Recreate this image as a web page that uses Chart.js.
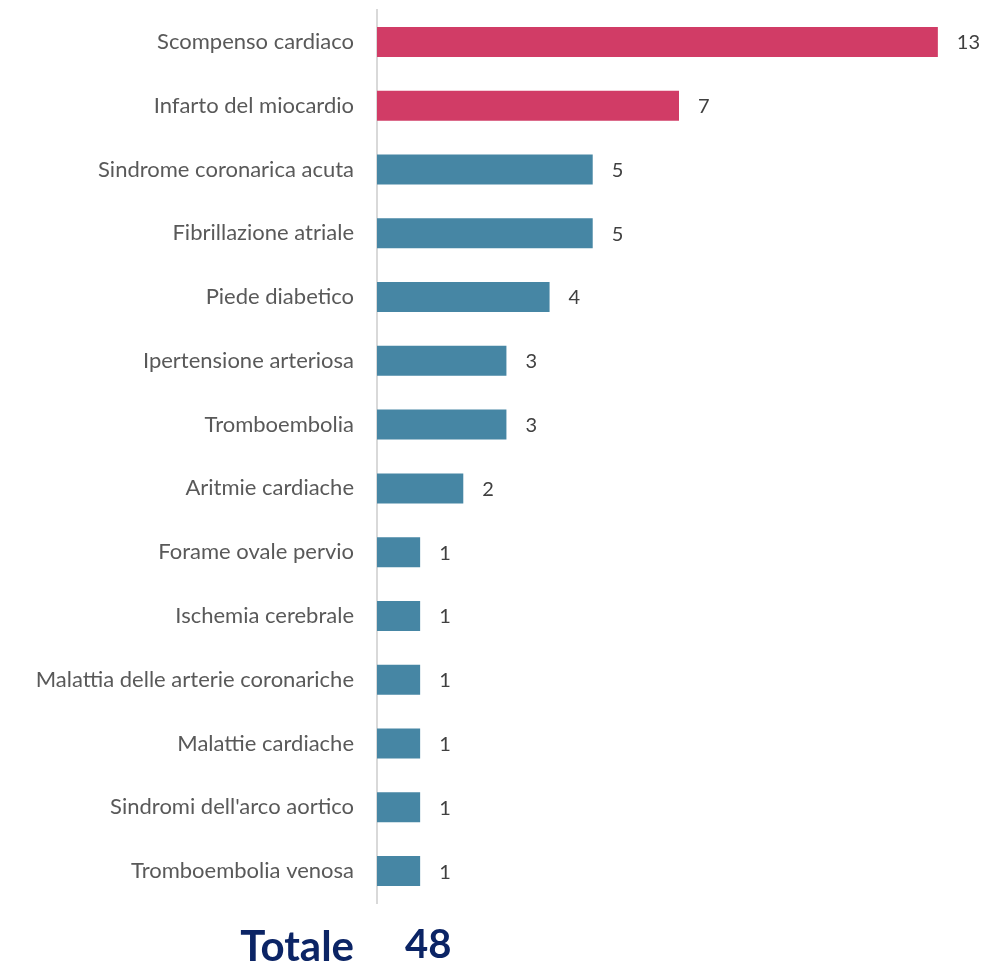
<!DOCTYPE html>
<html>
<head>
<meta charset="utf-8">
<script src="https://cdn.jsdelivr.net/npm/chart.js@4.4.1/dist/chart.umd.min.js"></script>
<style>
  html, body { margin: 0; padding: 0; background: #fff; }
  #wrap { width: 985px; height: 969px; }
</style>
</head>
<body>
<div id="wrap"><canvas id="chart" width="985" height="969"></canvas></div>
<script>
// ---------------- Data ----------------
const categories = [
    "Scompenso cardiaco",
    "Infarto del miocardio",
    "Sindrome coronarica acuta",
    "Fibrillazione atriale",
    "Piede diabetico",
    "Ipertensione arteriosa",
    "Tromboembolia",
    "Aritmie cardiache",
    "Forame ovale pervio",
    "Ischemia cerebrale",
    "Malattia delle arterie coronariche",
    "Malattie cardiache",
    "Sindromi dell'arco aortico",
    "Tromboembolia venosa"
] ;
const counts = [ 13, 7, 5, 5, 4, 3, 3, 2, 1, 1, 1, 1, 1, 1 ] ;
const highlighted = [ true, true, false, false, false, false, false, false, false, false, false, false, false, false ] ;
const totalLabel = "Totale" ;
const totalValue = 48 ;

// ---------------- Styles ----------------
const PINK = '#D13C66' ;
const TEAL = '#4686A4' ;
const NAVY = '#0B2465' ;
const FONT = 'Lato, "Open Sans", sans-serif' ;

const valueLabels = {
    id: 'valueLabels',
    afterDatasetsDraw( chart ) {
        const ctx = chart.ctx ;
        const meta = chart.getDatasetMeta( 0 ) ;
        ctx.save() ;
        ctx.font = '20px ' + FONT ;
        ctx.fillStyle = '#404040' ;
        ctx.textBaseline = 'middle' ;
        ctx.textAlign = 'left' ;
        meta.data.forEach( function( bar, i ) {
            ctx.fillText( String( counts[i] ), bar.x + 19, bar.y + 1 ) ;
        } ) ;
        ctx.restore() ;
    }
} ;

const totalText = {
    id: 'totalText',
    afterDraw( chart ) {
        const ctx = chart.ctx ;
        const left = chart.chartArea.left ;
        ctx.save() ;
        ctx.fillStyle = NAVY ;
        ctx.textBaseline = 'alphabetic' ;
        ctx.font = 'bold 42px ' + FONT ;
        ctx.textAlign = 'right' ;
        ctx.fillText( totalLabel, left - 23, 961 ) ;
        ctx.font = 'bold 40px ' + FONT ;
        ctx.textAlign = 'left' ;
        ctx.fillText( String( totalValue ), left + 28, 958 ) ;
        ctx.restore() ;
    }
} ;

new Chart( document.getElementById( 'chart' ), {
    type: 'bar',
    data: {
        labels: categories,
        datasets: [ {
            data: counts,
            backgroundColor: highlighted.map( h => h ? PINK : TEAL ),
            barPercentage: 0.47,
            categoryPercentage: 1.0,
            borderWidth: 0
        } ]
    },
    options: {
        indexAxis: 'y',
        responsive: false,
        animation: false,
        layout: { padding: { top: 10, bottom: 66, right: 4, left: 0 } },
        plugins: {
            legend: { display: false },
            tooltip: { enabled: false }
        },
        scales: {
            x: {
                display: false,
                min: 0,
                max: 14
            },
            y: {
                afterFit: function( scale ) {
                    scale.width = 377 ;
                    scale.paddingTop = 0 ;
                    scale.paddingBottom = 0 ;
                },
                grid: { display: false, drawTicks: false },
                border: { display: true, color: '#D9D9D9', width: 2 },
                ticks: {
                    color: '#595959',
                    padding: 23,
                    font: { family: FONT, size: 22 }
                }
            }
        }
    },
    plugins: [ valueLabels, totalText ]
} ) ;
</script>
</body>
</html>
